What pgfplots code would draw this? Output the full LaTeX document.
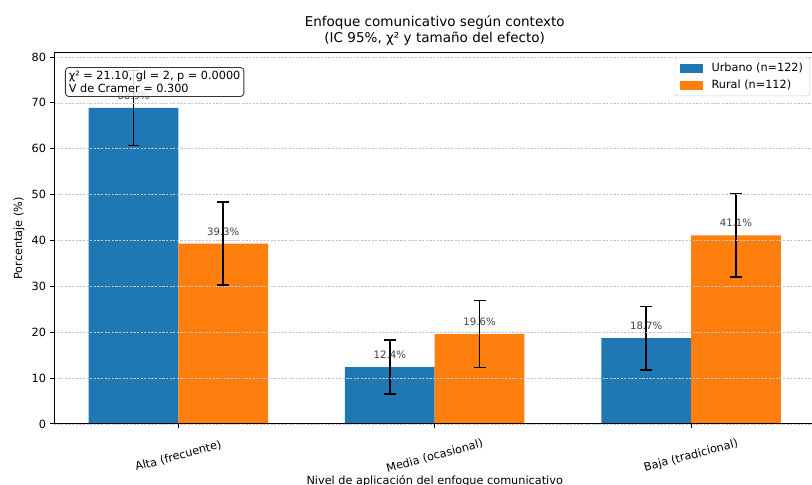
\documentclass[border=0pt]{standalone}
\usepackage{pgfplots}
\pgfplotsset{compat=1.18}
\usepackage{fontspec}
\setmainfont{DejaVu Sans}
\definecolor{urb}{HTML}{1F77B4}
\definecolor{rur}{HTML}{FF7F0E}
\begin{document}
\begin{tikzpicture}
\useasboundingbox (0,0) rectangle (720pt,430pt);
\begin{axis}[
    at={(47.9pt,54.1pt)}, anchor=south west,
    scale only axis, width=675.1pt, height=329.3pt,
    xmin=-0.485, xmax=2.485, ymin=0, ymax=80.96,
    ybar, bar width=0.35,
    xtick={0,1,2},
    xticklabels={Alta (frecuente),Media (ocasional),Baja (tradicional)},
    ytick={0,10,...,80},
    tick align=outside, major tick length=3.5pt,
    xtick pos=bottom, ytick pos=left,
    tick style={black, line width=0.8pt},
    axis line style={line width=0.8pt},
    ymajorgrids, grid style={gray!45, line width=0.45pt, dash pattern=on 2pt off 1.2pt},
    axis on top,
    font=\fontsize{10}{12}\selectfont,
    /pgf/number format/assume math mode=true,
    xticklabel style={anchor=center, rotate=15},
    xticklabel shift=25pt,
    xlabel={Nivel de aplicación del enfoque comunicativo},
    xlabel style={at={(axis description cs:0.5,0)}, anchor=base, yshift=-53.6pt},
    ylabel={Porcentaje (\%)},
    ylabel style={at={(axis description cs:-0.046,0.5)}, anchor=center},
    title={Enfoque comunicativo según contexto\\(IC 95\%, χ² y tamaño del efecto)},
    title style={at={(axis description cs:0.5,1)}, anchor=south, align=center,
        inner sep=0pt, yshift=0pt, font=\fontsize{12}{14.4}\selectfont},
    legend style={at={(rel axis cs:0.993,0.988)}, anchor=north east,
        draw=black!20, rounded corners=2pt, fill=white, fill opacity=0.8,
        text opacity=1, font=\fontsize{10}{12}\selectfont,
        inner xsep=4pt, inner ysep=3pt, row sep=2pt},
    legend cell align=left,
    nodes near coords={\pgfmathprintnumber[fixed,fixed zerofill,precision=1]{\pgfplotspointmeta}\%},
    nodes near coords style={font=\fontsize{9}{10}\selectfont, text=black!75,
        anchor=base, inner sep=0pt, yshift=7.6pt},
]
% Urbano (n=122)
\addplot[fill=urb, draw=none, bar shift=0pt, forget plot,
    error bars/.cd, y dir=both, y explicit,
    error bar style={line width=1.3pt, black},
    error mark options={rotate=90, mark size=5.3pt, line width=1.3pt, black}]
    coordinates {(-0.175,68.9) +- (0,8.2) (0.825,12.4) +- (0,5.85) (1.825,18.7) +- (0,6.9)};
% Rural (n=112)
\addplot[fill=rur, draw=none, bar shift=0pt, forget plot,
    error bars/.cd, y dir=both, y explicit,
    error bar style={line width=1.3pt, black},
    error mark options={rotate=90, mark size=5.3pt, line width=1.3pt, black}]
    coordinates {(0.175,39.3) +- (0,9.05) (1.175,19.6) +- (0,7.35) (2.175,41.1) +- (0,9.1)};
\addlegendimage{legend image code/.code={\fill[urb, sharp corners, fill opacity=1] (0pt,-3.5pt) rectangle (20pt,3.5pt); \path (26pt,0pt);}}
\addlegendentry{Urbano (n=122)}
\addlegendimage{legend image code/.code={\fill[rur, sharp corners, fill opacity=1] (0pt,-3.5pt) rectangle (20pt,3.5pt); \path (26pt,0pt);}}
\addlegendentry{Rural (n=112)}
\coordinate (sb) at (rel axis cs:0.0144,0.961);
\end{axis}
\node[anchor=north west, draw=black!80, rounded corners=3pt, fill=white,
    fill opacity=0.8, text opacity=1, inner sep=3pt, align=left,
    font=\fontsize{10}{12}\selectfont, line width=0.8pt] at (sb)
    {χ² = 21.10, gl = 2, p = 0.0000\\V de Cramer = 0.300};
\end{tikzpicture}
\end{document}
